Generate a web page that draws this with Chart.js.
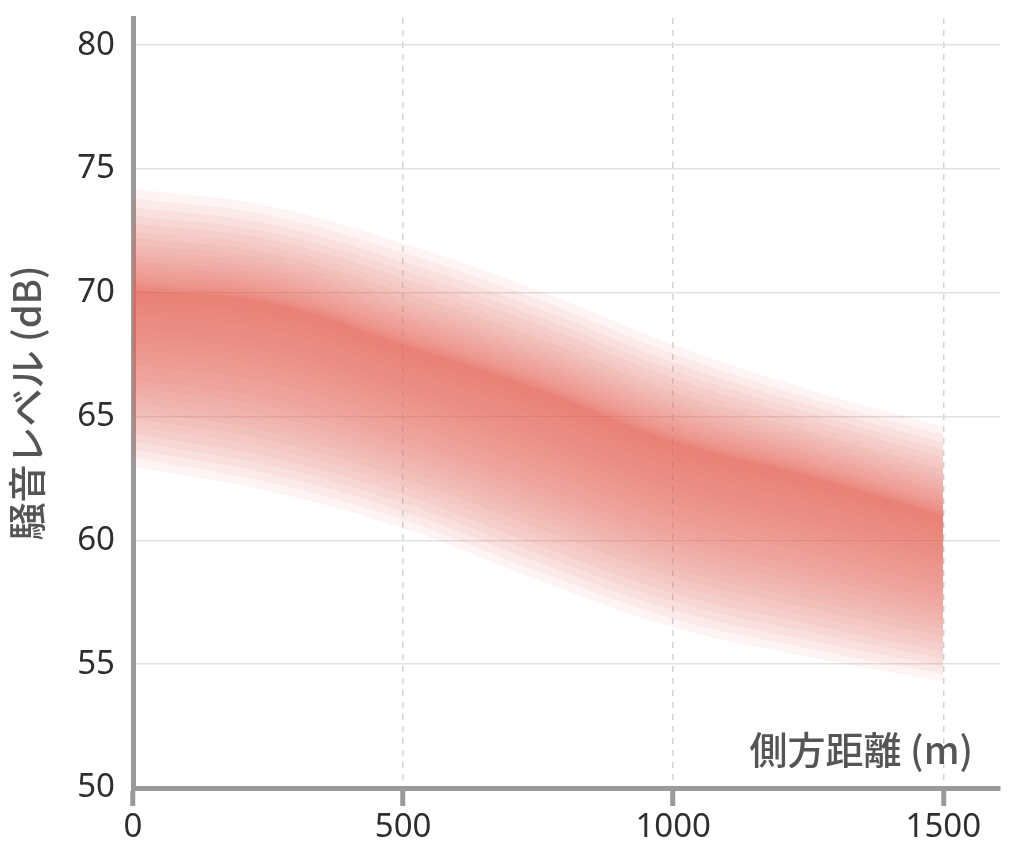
<!DOCTYPE html>
<html>
<head>
<meta charset="utf-8">
<script src="https://cdn.jsdelivr.net/npm/chart.js@4/dist/chart.umd.min.js"></script>
<style>
  html, body { margin: 0; padding: 0; background: #ffffff; }
  #wrap { width: 1028px; height: 847px; position: relative; }
</style>
</head>
<body>
<div id="wrap"><canvas id="c" width="1028" height="847"></canvas></div>
<script>
// ---- Data ----
const distance = [0, 250, 500, 750, 1000, 1250, 1500];          // 側方距離 (m)
const levelCenter = [70.1, 69.6, 67.9, 66.1, 64.0, 62.6, 61.0];  // core of band (dB)
const levelUpperEdge = [74.2, 73.5, 72.0, 70.1, 67.9, 66.1, 64.6]; // faint upper edge
const levelLowerEdge = [63.0, 62.0, 60.5, 58.4, 56.5, 55.3, 54.3]; // faint lower edge
const yTickValues = [50, 55, 60, 65, 70, 75, 80];
const xTickValues = [0, 500, 1000, 1500];
const yTitle = '騒音レベル (dB)';
const xTitle = '側方距離 (m)';

// ---- Build soft band as stacked translucent layers (upper_k filled to lower_k) ----
const LAYERS = 24;
const layerColor = 'rgba(223,107,98,0.0745)';
function pts(arr) { return distance.map((x, i) => ({ x: x, y: arr[i] })); }
const datasets = [];
const lowerIdx = [];
for (let k = 1; k <= LAYERS; k++) {
  const f = Math.pow(k / LAYERS, 1.1);
  const vals = levelCenter.map((c, i) => c + f * (levelLowerEdge[i] - c));
  lowerIdx.push(datasets.length);
  datasets.push({
    data: pts(vals),
    borderWidth: 0, borderColor: 'transparent', pointRadius: 0, fill: false
  });
}
for (let k = 1; k <= LAYERS; k++) {
  const f = Math.pow(k / LAYERS, 2.3);
  const vals = levelCenter.map((c, i) => c + f * (levelUpperEdge[i] - c));
  datasets.push({
    data: pts(vals),
    borderWidth: 0, borderColor: 'transparent', pointRadius: 0,
    backgroundColor: layerColor,
    fill: { target: lowerIdx[k - 1] }
  });
}

const AXIS_GRAY = '#9a9a9a';
const tickFont = { family: "'Noto Sans', 'Liberation Sans', sans-serif", size: 33 };

const xTitlePlugin = {
  id: 'xTitleInside',
  afterDraw(chart) {
    const ctx = chart.ctx;
    const xs = chart.scales.x;
    ctx.save();
    ctx.font = "500 38px 'Noto Sans CJK JP', sans-serif";
    ctx.fillStyle = '#555555';
    ctx.textAlign = 'right';
    ctx.textBaseline = 'middle';
    ctx.fillText(xTitle, xs.getPixelForValue(1555), 750);
    ctx.restore();
  }
};

new Chart(document.getElementById('c'), {
  type: 'line',
  data: { datasets: datasets },
  plugins: [xTitlePlugin],
  options: {
    responsive: false,
    animation: false,
    events: [],
    layout: { padding: { top: 18, right: 28, left: 0, bottom: 0 } },
    plugins: { legend: { display: false }, tooltip: { enabled: false } },
    elements: { line: { tension: 0.4 } },
    scales: {
      x: {
        type: 'linear',
        min: 0,
        max: 1605,
        afterBuildTicks: (s) => { s.ticks = xTickValues.map(v => ({ value: v })); },
        afterFit: (s) => { s.height = 59; },
        border: { display: true, color: AXIS_GRAY, width: 5, dash: [6, 6] },
        grid: {
          color: (ctx) => (ctx.tick && ctx.tick.value === 0) ? 'transparent' : '#d4d4d4',
          lineWidth: 1.5,
          drawTicks: true,
          tickLength: 18,
          tickColor: AXIS_GRAY,
          tickWidth: 5
        },
        ticks: { color: '#2e2e2e', font: tickFont, padding: 2, maxRotation: 0,
                 callback: (v) => String(v) }
      },
      y: {
        type: 'linear',
        min: 50,
        max: 81.1,
        afterBuildTicks: (s) => { s.ticks = yTickValues.map(v => ({ value: v })); },
        afterFit: (s) => { s.width = 133; s.paddingTop = 0; s.paddingBottom = 0; },
        border: { display: true, color: AXIS_GRAY, width: 5 },
        grid: { color: '#e2e2e2', lineWidth: 1.5, drawTicks: false },
        ticks: { color: '#2e2e2e', font: tickFont, padding: 18, callback: (v) => String(v) },
        title: {
          display: true,
          text: yTitle,
          color: '#555555',
          font: { family: "'Noto Sans CJK JP', sans-serif", size: 38, weight: '500' },
          padding: { top: 4, bottom: 0 }
        }
      }
    }
  }
});
</script>
</body>
</html>
